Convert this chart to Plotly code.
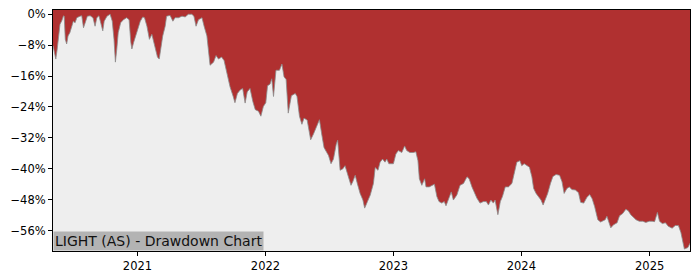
import plotly.graph_objects as go

dates = [
 "2020-05-05","2020-05-13","2020-05-17","2020-05-22","2020-05-25","2020-05-30","2020-06-04","2020-06-06","2020-06-09","2020-06-13",
 "2020-06-17","2020-06-22","2020-06-27","2020-07-02","2020-07-07","2020-07-12","2020-07-21","2020-07-26","2020-07-31","2020-08-05",
 "2020-08-11","2020-08-19","2020-08-27","2020-09-02","2020-09-07","2020-09-13","2020-09-19","2020-09-24","2020-09-28","2020-10-06",
 "2020-10-15","2020-10-21","2020-10-26","2020-10-30","2020-11-03","2020-11-07","2020-11-14","2020-11-22","2020-12-01","2020-12-08",
 "2020-12-13","2020-12-16","2020-12-21","2020-12-28","2021-01-04","2021-01-09","2021-01-16","2021-01-21","2021-01-28","2021-02-04",
 "2021-02-11","2021-02-15","2021-02-22","2021-02-27","2021-03-04","2021-03-08","2021-03-14","2021-03-21","2021-03-25","2021-04-04",
 "2021-04-12","2021-04-18","2021-04-28","2021-05-08","2021-05-17","2021-05-26","2021-06-05","2021-06-11","2021-06-17","2021-06-24",
 "2021-07-04","2021-07-10","2021-07-18","2021-07-22","2021-07-27","2021-08-06","2021-08-13","2021-08-20","2021-08-29","2021-09-05",
 "2021-09-13","2021-09-22","2021-10-01","2021-10-06","2021-10-13","2021-10-21","2021-10-28","2021-11-04","2021-11-10","2021-11-18",
 "2021-11-26","2021-12-03","2021-12-12","2021-12-19","2021-12-26","2022-01-02","2022-01-07","2022-01-14","2022-01-19","2022-01-24",
 "2022-01-31","2022-02-10","2022-02-17","2022-02-23","2022-03-01","2022-03-07","2022-03-16","2022-03-27","2022-04-01","2022-04-08",
 "2022-04-15","2022-04-21","2022-04-30","2022-05-10","2022-05-18","2022-05-28","2022-06-04","2022-06-11","2022-06-17","2022-06-25",
 "2022-06-30","2022-07-07","2022-07-14","2022-07-22","2022-07-26","2022-08-02","2022-08-10","2022-08-16","2022-08-23","2022-09-02",
 "2022-09-07","2022-09-14","2022-09-20","2022-09-28","2022-10-06","2022-10-11","2022-10-19","2022-10-27","2022-11-05","2022-11-10",
 "2022-11-18","2022-11-24","2022-12-01","2022-12-08","2022-12-13","2022-12-19","2023-01-01","2023-01-08","2023-01-15","2023-01-25",
 "2023-02-02","2023-02-08","2023-02-17","2023-02-27","2023-03-06","2023-03-12","2023-03-16","2023-03-23","2023-03-31","2023-04-04",
 "2023-04-13","2023-04-21","2023-04-28","2023-05-05","2023-05-11","2023-05-19","2023-05-26","2023-05-31","2023-06-07","2023-06-15",
 "2023-06-21","2023-07-01","2023-07-10","2023-07-20","2023-07-30","2023-08-05","2023-08-13","2023-08-20","2023-08-27","2023-09-05",
 "2023-09-15","2023-09-23","2023-09-29","2023-10-06","2023-10-13","2023-10-18","2023-10-26","2023-11-02","2023-11-08","2023-11-16",
 "2023-11-25","2023-12-05","2023-12-11","2023-12-19","2023-12-28","2024-01-02","2024-01-09","2024-01-17","2024-01-24","2024-01-31",
 "2024-02-05","2024-02-12","2024-02-19","2024-02-26","2024-03-03","2024-03-09","2024-03-16","2024-03-24","2024-03-31","2024-04-09",
 "2024-04-19","2024-04-26","2024-05-02","2024-05-10","2024-05-17","2024-05-24","2024-06-03","2024-06-12","2024-06-18","2024-06-27",
 "2024-07-06","2024-07-14","2024-07-21","2024-07-28","2024-08-06","2024-08-14","2024-08-27","2024-09-01","2024-09-06","2024-09-12",
 "2024-09-20","2024-09-30","2024-10-07","2024-10-16","2024-10-25","2024-11-01","2024-11-08","2024-11-15","2024-11-23","2024-12-02",
 "2024-12-12","2024-12-21","2024-12-31","2025-01-08","2025-01-15","2025-01-23","2025-01-29","2025-02-06","2025-02-15","2025-02-23",
 "2025-03-06","2025-03-15","2025-03-24","2025-03-31","2025-04-04","2025-04-10","2025-04-20","2025-04-26",
]

drawdown_pct = [
 -8.1,-11.6,-9.0,-5.5,-2.6,-1.7,-0.4,-0.5,-6.5,-7.7,
 -5.6,-4.8,-3.1,-1.8,-2.2,-0.9,-0.5,-0.4,-3.5,-1.8,
 -0.5,-0.4,-0.9,-3.1,-0.9,-0.4,-2.2,-4.3,-1.8,-0.5,
 0.0,-1.8,-6.5,-12.4,-9.0,-4.8,-2.2,-1.4,-0.9,-1.4,
 -7.3,-9.0,-7.3,-5.2,-3.5,-1.8,-0.7,-0.9,-3.1,-6.5,
 -5.2,-6.9,-9.0,-11.1,-11.6,-9.0,-5.6,-3.1,-0.5,-0.3,
 -1.8,-0.9,-0.9,-0.5,-0.7,0.0,0.0,-0.5,-3.1,-1.4,
 -0.9,-3.1,-5.6,-9.0,-13.2,-12.4,-10.7,-11.6,-11.1,-12.0,
 -15.0,-18.8,-21.3,-22.9,-20.5,-19.6,-19.2,-23.0,-20.1,-19.2,
 -22.6,-24.7,-25.1,-26.4,-23.9,-22.9,-18.5,-18.1,-16.7,-21.3,
 -14.5,-14.5,-12.9,-16.2,-16.9,-25.6,-21.1,-20.5,-21.3,-26.4,
 -28.5,-26.9,-27.4,-32.5,-31.0,-28.5,-27.3,-31.3,-34.5,-35.8,
 -36.6,-38.7,-37.5,-33.6,-32.6,-40.4,-40.0,-39.2,-41.3,-44.3,
 -43.4,-41.7,-43.8,-46.4,-48.1,-50.2,-48.5,-46.8,-43.8,-39.7,
 -40.4,-38.3,-37.5,-38.3,-37.5,-38.7,-38.7,-36.2,-35.3,-35.8,
 -34.1,-35.3,-35.8,-35.8,-35.6,-37.9,-42.6,-44.3,-42.6,-44.7,
 -44.7,-44.3,-44.0,-47.2,-48.5,-48.9,-48.5,-49.6,-48.1,-46.0,
 -48.1,-46.8,-44.3,-43.8,-42.1,-42.6,-44.7,-46.3,-47.6,-48.9,
 -48.5,-48.5,-49.4,-48.1,-48.9,-48.1,-51.9,-48.5,-47.2,-44.7,
 -44.7,-43.8,-41.3,-38.3,-37.9,-39.2,-38.7,-39.2,-39.6,-42.1,
 -45.1,-46.4,-47.2,-48.1,-49.4,-48.1,-46.4,-43.8,-42.0,-41.5,
 -41.7,-43.4,-46.4,-45.1,-44.7,-45.4,-45.5,-46.2,-48.7,-48.9,
 -47.4,-46.7,-47.8,-49.8,-53.2,-53.8,-53.2,-52.3,-53.8,-55.3,
 -54.5,-54.0,-52.2,-51.6,-50.5,-50.9,-51.9,-52.5,-53.2,-53.6,
 -53.6,-53.9,-53.6,-53.6,-53.7,-51.3,-53.6,-54.2,-54.0,-54.9,
 -55.4,-54.7,-54.7,-56.5,-58.5,-60.8,-60.4,-59.3,
]

y_tick_vals = [0, -8, -16, -24, -32, -40, -48, -56]
y_tick_text = ["0%", "\u22128%", "\u221216%", "\u221224%", "\u221232%", "\u221240%", "\u221248%", "\u221256%"]
x_tick_vals = ["2021-01-01", "2022-01-01", "2023-01-01", "2024-01-01", "2025-01-01"]
x_tick_text = ["2021", "2022", "2023", "2024", "2025"]
title_text = "LIGHT (AS) - Drawdown Chart"

RED = "#B03030"
GRAY_BG = "#EEEEEE"
Y_MIN, Y_MAX = -61.3, 1.1

fig = go.Figure()
# invisible baseline below the visible range, so the gray area fills from curve downward
fig.add_trace(go.Scatter(
    x=[dates[0], dates[-1]], y=[Y_MIN - 10, Y_MIN - 10], mode="lines",
    line=dict(width=0, color=GRAY_BG), hoverinfo="skip", showlegend=False,
))
fig.add_trace(go.Scatter(
    x=dates, y=drawdown_pct, mode="lines", fill="tonexty",
    fillcolor=GRAY_BG, line=dict(color="#8c8c8c", width=0.8),
    hoverinfo="skip", showlegend=False,
))

fig.add_annotation(
    text=title_text, xref="paper", yref="paper", x=0, y=0,
    xanchor="left", yanchor="bottom", showarrow=False,
    bgcolor="#B3B3B3", borderpad=1,
    font=dict(family="DejaVu Sans", size=14, color="#111111"),
)

axis_common = dict(
    showline=True, linecolor="black", linewidth=1, mirror=True,
    ticks="outside", ticklen=4, tickcolor="black", tickwidth=1,
    showgrid=False, zeroline=False,
    tickfont=dict(family="DejaVu Sans", size=11.5, color="black"),
)

fig.update_layout(
    width=700, height=280,
    margin=dict(l=53, r=10, t=7, b=28),
    paper_bgcolor="white", plot_bgcolor=RED,
    xaxis=dict(type="date", range=[dates[0], dates[-1]],
               tickvals=x_tick_vals, ticktext=x_tick_text, **axis_common),
    yaxis=dict(range=[Y_MIN, Y_MAX], tickvals=y_tick_vals, ticktext=y_tick_text, **axis_common),
)

fig.write_html("out.html")
